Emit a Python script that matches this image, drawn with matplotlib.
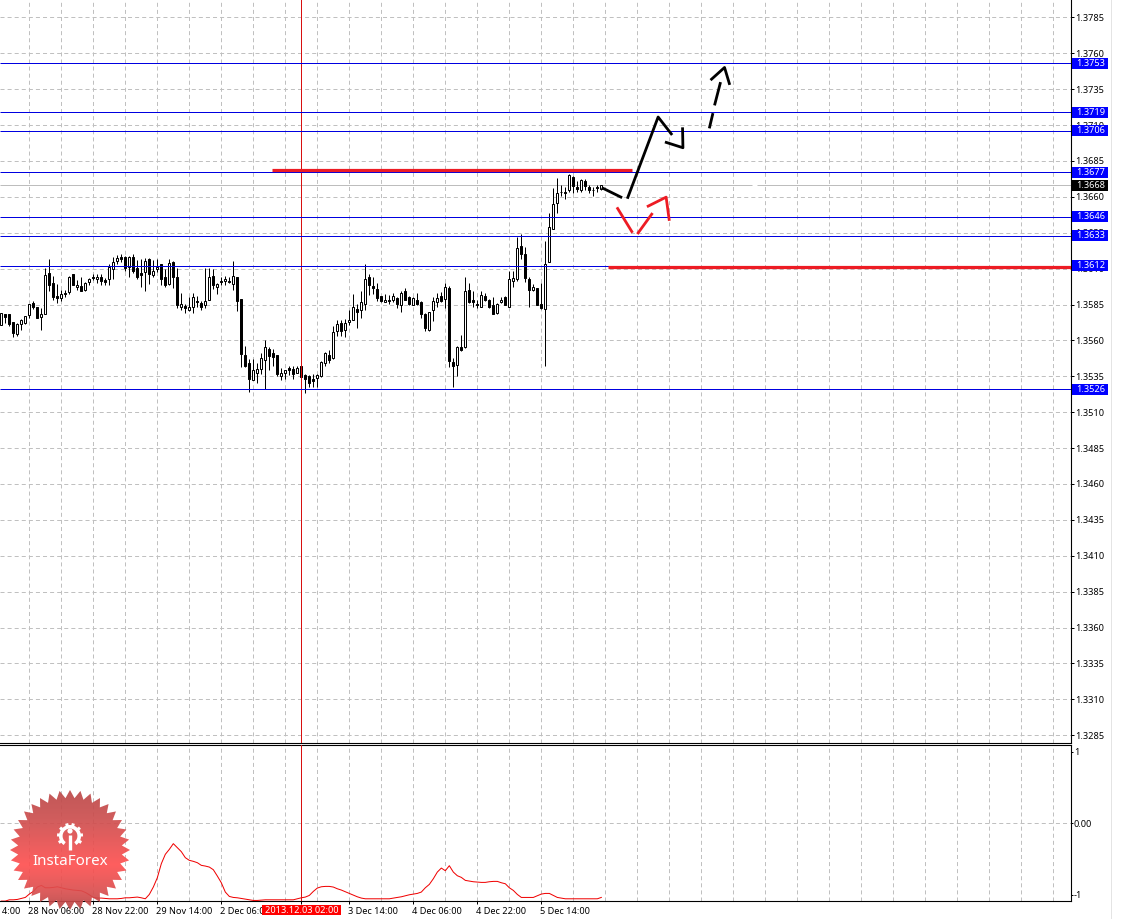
import numpy as np
import matplotlib
matplotlib.use('Agg')
import matplotlib.pyplot as plt
from matplotlib.patches import Rectangle, Polygon, Circle, Wedge
from matplotlib.transforms import blended_transform_factory

plt.rcParams['font.family'] = ['Noto Sans', 'DejaVu Sans']
plt.rcParams['lines.scale_dashes'] = False

# hourly candles
opens = [1.35709, 1.35781, 1.35781, 1.35725, 1.35644, 1.35714, 1.35721, 1.35779, 1.35860, 1.35830,
         1.35765, 1.35785, 1.36068, 1.35999, 1.35908, 1.35897, 1.35929, 1.35934, 1.36061, 1.35973,
         1.35978, 1.35952, 1.36008, 1.36045, 1.36029, 1.36040, 1.36022, 1.36029, 1.36098, 1.36154,
         1.36181, 1.36181, 1.36112, 1.36179, 1.36103, 1.36068, 1.36077, 1.36170, 1.36056, 1.36098,
         1.36130, 1.36040, 1.35994, 1.36149, 1.36040, 1.35832, 1.35839, 1.35813, 1.35834, 1.35874,
         1.35860, 1.35848, 1.35885, 1.36047, 1.35973, 1.36012, 1.36015, 1.36017, 1.35994, 1.36040,
         1.35887, 1.35498, 1.35443, 1.35327, 1.35376, 1.35404, 1.35466, 1.35540, 1.35512, 1.35498,
         1.35355, 1.35376, 1.35410, 1.35401, 1.35376, 1.35422, 1.35360, 1.35355, 1.35332, 1.35336,
         1.35350, 1.35441, 1.35498, 1.35475, 1.35667, 1.35718, 1.35674, 1.35725, 1.35744, 1.35816,
         1.35809, 1.35857, 1.36040, 1.35978, 1.35955, 1.35906, 1.35869, 1.35881, 1.35883, 1.35897,
         1.35850, 1.35941, 1.35899, 1.35850, 1.35885, 1.35871, 1.35783, 1.35672, 1.35809, 1.35871,
         1.35908, 1.35887, 1.35968, 1.35448, 1.35427, 1.35552, 1.35552, 1.35948, 1.35881, 1.35857,
         1.35832, 1.35908, 1.35881, 1.35850, 1.35793, 1.35871, 1.35901, 1.35834, 1.36017, 1.36029,
         1.36260, 1.36200, 1.36031, 1.35948, 1.35968, 1.35857, 1.35816, 1.36147, 1.36379, 1.36559,
         1.36635, 1.36635, 1.36649, 1.36737, 1.36666, 1.36649, 1.36707, 1.36666, 1.36651, 1.36666,
         1.36654]
highs = [1.35788, 1.35783, 1.35783, 1.35725, 1.35718, 1.35751, 1.35769, 1.35853, 1.35876, 1.35830,
         1.35823, 1.36103, 1.36170, 1.36052, 1.35992, 1.35950, 1.35950, 1.36047, 1.36066, 1.36019,
         1.36040, 1.36008, 1.36038, 1.36066, 1.36066, 1.36066, 1.36036, 1.36135, 1.36181, 1.36193,
         1.36205, 1.36186, 1.36186, 1.36205, 1.36158, 1.36170, 1.36177, 1.36177, 1.36158, 1.36170,
         1.36135, 1.36100, 1.36170, 1.36154, 1.36103, 1.35927, 1.35857, 1.35904, 1.35927, 1.35911,
         1.35876, 1.36105, 1.36105, 1.36100, 1.36001, 1.36043, 1.36047, 1.36043, 1.36151, 1.36043,
         1.35887, 1.35561, 1.35471, 1.35468, 1.35441, 1.35510, 1.35603, 1.35556, 1.35538, 1.35498,
         1.35406, 1.35394, 1.35422, 1.35422, 1.35422, 1.35450, 1.35367, 1.35360, 1.35364, 1.35367,
         1.35459, 1.35517, 1.35533, 1.35700, 1.35742, 1.35742, 1.35746, 1.35811, 1.35922, 1.35853,
         1.35943, 1.36130, 1.36066, 1.36043, 1.36001, 1.35908, 1.35920, 1.35915, 1.35931, 1.35904,
         1.35945, 1.35968, 1.35908, 1.35901, 1.35927, 1.35876, 1.35788, 1.35799, 1.35904, 1.35927,
         1.35938, 1.36001, 1.35978, 1.35475, 1.35561, 1.35635, 1.36043, 1.36001, 1.35943, 1.35885,
         1.35943, 1.35927, 1.35887, 1.35904, 1.35862, 1.35904, 1.35908, 1.36082, 1.36082, 1.36320,
         1.36339, 1.36251, 1.36043, 1.35996, 1.35968, 1.36001, 1.36290, 1.36490, 1.36663, 1.36730,
         1.36680, 1.36672, 1.36756, 1.36747, 1.36707, 1.36726, 1.36721, 1.36680, 1.36668, 1.36680,
         1.36680]
lows = [1.35709, 1.35718, 1.35702, 1.35626, 1.35630, 1.35672, 1.35716, 1.35755, 1.35816, 1.35755,
        1.35672, 1.35783, 1.35945, 1.35881, 1.35862, 1.35876, 1.35904, 1.35920, 1.35985, 1.35950,
        1.35943, 1.35945, 1.35985, 1.36019, 1.36001, 1.35985, 1.35989, 1.35985, 1.36026, 1.36135,
        1.36147, 1.36084, 1.36043, 1.36073, 1.36029, 1.35973, 1.35945, 1.35996, 1.36043, 1.36077,
        1.35985, 1.35973, 1.35989, 1.35962, 1.35823, 1.35811, 1.35793, 1.35804, 1.35788, 1.35834,
        1.35811, 1.35827, 1.35881, 1.35955, 1.35922, 1.35985, 1.35989, 1.36003, 1.35950, 1.35804,
        1.35418, 1.35418, 1.35244, 1.35325, 1.35306, 1.35367, 1.35260, 1.35394, 1.35422, 1.35353,
        1.35325, 1.35334, 1.35357, 1.35334, 1.35371, 1.35302, 1.35237, 1.35279, 1.35279, 1.35279,
        1.35348, 1.35424, 1.35445, 1.35473, 1.35633, 1.35630, 1.35626, 1.35707, 1.35742, 1.35688,
        1.35758, 1.35811, 1.35915, 1.35920, 1.35874, 1.35869, 1.35869, 1.35853, 1.35867, 1.35825,
        1.35795, 1.35881, 1.35846, 1.35848, 1.35846, 1.35755, 1.35668, 1.35668, 1.35737, 1.35834,
        1.35869, 1.35827, 1.35418, 1.35279, 1.35355, 1.35528, 1.35549, 1.35864, 1.35830, 1.35823,
        1.35830, 1.35876, 1.35825, 1.35783, 1.35783, 1.35862, 1.35846, 1.35830, 1.35973, 1.36015,
        1.36170, 1.36008, 1.35834, 1.35943, 1.35846, 1.35816, 1.35422, 1.36147, 1.36379, 1.36487,
        1.36603, 1.36587, 1.36635, 1.36626, 1.36631, 1.36635, 1.36649, 1.36626, 1.36608, 1.36633,
        1.36650]
closes = [1.35788, 1.35763, 1.35711, 1.35651, 1.35714, 1.35742, 1.35767, 1.35853, 1.35834, 1.35758,
          1.35783, 1.36059, 1.35987, 1.35904, 1.35894, 1.35920, 1.35924, 1.36045, 1.35987, 1.35989,
          1.35945, 1.35999, 1.36031, 1.36038, 1.36045, 1.36015, 1.36008, 1.36110, 1.36149, 1.36177,
          1.36165, 1.36105, 1.36184, 1.36082, 1.36040, 1.36056, 1.36156, 1.36063, 1.36086, 1.36114,
          1.36026, 1.35987, 1.36137, 1.36040, 1.35848, 1.35853, 1.35827, 1.35830, 1.35901, 1.35869,
          1.35832, 1.35878, 1.36040, 1.35985, 1.35996, 1.36008, 1.36031, 1.36008, 1.36047, 1.35876,
          1.35505, 1.35422, 1.35334, 1.35392, 1.35399, 1.35475, 1.35552, 1.35494, 1.35487, 1.35367,
          1.35371, 1.35392, 1.35394, 1.35367, 1.35406, 1.35348, 1.35334, 1.35306, 1.35320, 1.35357,
          1.35448, 1.35510, 1.35466, 1.35656, 1.35711, 1.35667, 1.35718, 1.35739, 1.35830, 1.35795,
          1.35871, 1.36031, 1.35987, 1.35966, 1.35897, 1.35876, 1.35885, 1.35876, 1.35906, 1.35855,
          1.35927, 1.35883, 1.35855, 1.35897, 1.35853, 1.35785, 1.35686, 1.35795, 1.35878, 1.35897,
          1.35876, 1.35975, 1.35459, 1.35420, 1.35556, 1.35536, 1.35941, 1.35869, 1.35869, 1.35848,
          1.35918, 1.35883, 1.35830, 1.35785, 1.35857, 1.35885, 1.35848, 1.36031, 1.36038, 1.36246,
          1.36205, 1.36036, 1.35952, 1.35975, 1.35848, 1.35827, 1.36135, 1.36388, 1.36547, 1.36628,
          1.36631, 1.36628, 1.36749, 1.36677, 1.36656, 1.36719, 1.36675, 1.36649, 1.36647, 1.36659,
          1.36680]

# oscillator in the lower window
osc = [-1.086, -1.086, -1.068, -1.068, -1.063, -1.049, -1.035, -0.988, -0.951, -0.890,
       -0.867, -0.900, -0.900, -0.895, -0.886, -0.900, -0.914, -0.923, -0.932, -0.937,
       -0.942, -0.965, -0.998, -1.035, -1.044, -1.044, -1.049, -1.054, -1.054, -1.054,
       -1.049, -1.040, -1.040, -1.035, -1.030, -1.040, -1.054, -0.993, -0.890, -0.760,
       -0.564, -0.433, -0.364, -0.284, -0.340, -0.396, -0.480, -0.517, -0.531, -0.550,
       -0.587, -0.597, -0.611, -0.648, -0.736, -0.830, -0.960, -1.021, -1.035, -1.040,
       -1.049, -1.058, -1.068, -1.077, -1.077, -1.072, -1.068, -1.068, -1.068, -1.068,
       -1.068, -1.068, -1.068, -1.068, -1.054, -1.040, -1.030, -1.007, -0.951, -0.904,
       -0.886, -0.881, -0.881, -0.890, -0.914, -0.932, -0.956, -0.979, -1.002, -1.026,
       -1.044, -1.054, -1.054, -1.054, -1.054, -1.054, -1.054, -1.054, -1.044, -1.035,
       -1.026, -1.012, -0.998, -0.988, -0.979, -0.960, -0.900, -0.853, -0.774, -0.681,
       -0.625, -0.662, -0.592, -0.681, -0.732, -0.755, -0.797, -0.806, -0.816, -0.820,
       -0.825, -0.825, -0.816, -0.811, -0.811, -0.830, -0.844, -0.900, -0.937, -0.993,
       -1.035, -1.035, -1.035, -1.035, -1.012, -0.988, -0.979, -0.979, -1.007, -1.035,
       -1.044, -1.054, -1.054, -1.054, -1.054, -1.054, -1.054, -1.054, -1.054, -1.054,
       -1.035]

price_ticks = [1.3785, 1.3760, 1.3735, 1.3710, 1.3685, 1.3660, 1.3635, 1.3610, 1.3585, 1.3560, 1.3535,
               1.3510, 1.3485, 1.3460, 1.3435, 1.3410, 1.3385, 1.3360, 1.3335, 1.3310, 1.3285]
levels = [1.3753, 1.3719, 1.3706, 1.3677, 1.3646, 1.3633, 1.3612, 1.3526]
bid = 1.3668

date_bars = [-9, 7, 23, 39, 55, 87, 103, 119, 135]
date_labels = ['27 Nov 14:00', '28 Nov 06:00', '28 Nov 22:00', '29 Nov 14:00', '2 Dec 06:00',
               '3 Dec 14:00', '4 Dec 06:00', '4 Dec 22:00', '5 Dec 14:00']
cross_bar = 75
cross_label = '2013.12.03 02:00'

# hand drawn forecast lines: (bars, prices)
black_paths = [([150.1, 155.2], [1.36664, 1.36594]),
               ([156.5, 164.2, 167.7], [1.36587, 1.37156, 1.37031]),
               ([165.9, 170.4, 170.3], [1.36982, 1.36942, 1.37084]),
               ([177.0, 177.9], [1.37077, 1.37183]),
               ([178.3, 179.8], [1.37237, 1.37399]),
               ([177.3, 180.8, 182.1], [1.37413, 1.37501, 1.37380])]
red_paths = [([153.9, 157.8], [1.36527, 1.36350]),
             ([159.0, 162.8], [1.36341, 1.36487]),
             ([161.4, 166.2, 167.0], [1.36531, 1.36598, 1.36433])]
red_levels = [(67.7, 157.7, 1.36790), (151.7, 267.4, 1.36108)]

px = 1 / 1.39  # one pixel in points at dpi 100
W, H = 1121, 919
fig = plt.figure(figsize=(W / 100, H / 100), dpi=100, facecolor='white')
ax = fig.add_axes([0, 1 - 743.3 / H, 1070.7 / W, 743.3 / H])
sub = fig.add_axes([0, 1 - 901.3 / H, 1070.7 / W, 156 / H])

xlim = (-0.33, 267.34)
grid_bars = np.arange(7, 268, 8)
dash = (0, (2.9, 2.2))
for a in (ax, sub):
    a.set_xlim(*xlim)
    a.vlines(grid_bars, 0, 1, transform=a.get_xaxis_transform(), color='#c0c0c0', lw=px, linestyle=dash,
             zorder=1, snap=True)
    a.axvline(cross_bar, color='#d81010', lw=px, zorder=4, snap=True)
    a.yaxis.tick_right()
    a.spines['left'].set_visible(False)
    for s in a.spines.values():
        s.set_linewidth(px * 1.1)

# price window
ax.set_ylim(1.32794, 1.37971)
ax.spines['top'].set_visible(False)
ax.set_yticks(price_ticks)
ax.set_yticklabels([f'{p:.4f}' for p in price_ticks])
ax.set_xticks([])
ax.tick_params(axis='y', length=2.2, width=px, pad=1.2, labelsize=6.6)
ax.hlines(price_ticks, xlim[0], xlim[1], color='#c0c0c0', lw=px, linestyle=dash, zorder=1, snap=True)

bars = np.arange(len(opens))
o, h, l, c = map(np.array, (opens, highs, lows, closes))
ax.vlines(bars, l, h, color='black', lw=px, zorder=3, snap=True)
up = c >= o
ax.bar(bars[up], (c - o)[up], bottom=o[up], width=0.5, facecolor='white', edgecolor='black', lw=px, zorder=3.2)
ax.bar(bars[~up], (c - o)[~up], bottom=o[~up], width=0.5, facecolor='black', edgecolor='black', lw=px, zorder=3.2)

ax.hlines(bid, xlim[0], 187.7, color='#bdbdbd', lw=px, zorder=2, snap=True)
ax.hlines(bid, 189.0, xlim[1], color='#bdbdbd', lw=px, zorder=2, snap=True)
ax.hlines(levels, xlim[0], xlim[1], color='#0000e0', lw=px, zorder=4, snap=True)

for x0, x1, y in red_levels:
    ax.plot([x0, x1], [y, y], color='#ed1c24', lw=2.3, solid_capstyle='butt', zorder=5)
for xs, ys in black_paths:
    ax.plot(xs, ys, color='black', lw=2.0, solid_capstyle='butt', zorder=5)
for xs, ys in red_paths:
    ax.plot(xs, ys, color='#ed1c24', lw=2.0, solid_capstyle='butt', zorder=5)

# price boxes on the scale
tr = blended_transform_factory(ax.transAxes, ax.transData)
box_h = 0.00076
for p, col in [(v, '#0000ff') for v in levels] + [(bid, 'black')]:
    ax.add_patch(Rectangle((1.001, p - box_h / 2), 0.0342, box_h, transform=tr, facecolor=col,
                           edgecolor='none', clip_on=False, zorder=6))
    ax.text(1.0055, p, f'{p:.4f}', transform=tr, color='white', fontsize=6.6, va='center', ha='left',
            clip_on=False, zorder=7)

# lower window
sub.set_ylim(-1.089, 1.089)
sub.set_yticks([1, 0, -1])
sub.set_yticklabels(['1', '0.00', '-1'])
sub.set_xticks([b for b in date_bars if b > 0] + [cross_bar])
sub.set_xticklabels([])
sub.tick_params(axis='x', length=2.2, width=px)
sub.tick_params(axis='y', length=1.5, width=px, pad=0.8, labelsize=6.6)
sub.axhline(0, color='#c0c0c0', lw=px, linestyle=dash, zorder=1, snap=True)
sub.plot(bars, osc, color='#f00000', lw=px, zorder=3)

for b, t in zip(date_bars, date_labels):
    sub.annotate(t, (b, 0), xycoords=('data', 'axes fraction'), xytext=(-1, -4.2), textcoords='offset points',
                 ha='left', va='top', fontsize=6.6, annotation_clip=False)
tr2 = blended_transform_factory(sub.transData, sub.transAxes)
sub.add_patch(Rectangle((65.09, -0.0897), 19.8, 0.0641, transform=tr2, facecolor='#ff0000', edgecolor='none',
                        clip_on=False, zorder=6))
sub.annotate(cross_label, (cross_bar, -0.0577), xycoords=('data', 'axes fraction'), color='white', ha='center',
             va='center', fontsize=6.6, annotation_clip=False, zorder=7)

# logo, drawn in picture pixels on top of everything
logo = fig.add_axes([0, 0, 1, 1], facecolor='none', zorder=10)
logo.set_xlim(0, W)
logo.set_ylim(H, 0)
logo.axis('off')
logo.axvline(1110.5, color='#e4e4e4', lw=px, snap=True)  # window edge on the right
teeth = 36
ang = np.linspace(0, 2 * np.pi, 2 * teeth, endpoint=False) + np.pi / 2
rad = np.where(np.arange(2 * teeth) % 2 == 0, 60, 52)
star = Polygon(np.c_[70 + rad * np.cos(ang), 850 + rad * np.sin(ang)], closed=True, facecolor='none', edgecolor='none')
logo.add_patch(star)
grad_pos = np.array([0.0, 0.25, 0.62, 0.85, 1.0])
grad_r = np.array([186, 205, 255, 215, 178])
grad_g = np.array([72, 78, 80, 78, 68])
grad_b = np.array([72, 78, 80, 78, 68])
t = np.linspace(0, 1, 128)
rgba = np.ones((128, 1, 4))
rgba[:, 0, 0] = np.interp(t, grad_pos, grad_r) / 255
rgba[:, 0, 1] = np.interp(t, grad_pos, grad_g) / 255
rgba[:, 0, 2] = np.interp(t, grad_pos, grad_b) / 255
rgba[:, 0, 3] = 0.92
im = logo.imshow(rgba, extent=(5, 135, 912, 788), aspect='auto', zorder=1)
im.set_clip_path(star)
logo.set_xlim(0, W)
logo.set_ylim(H, 0)

# gear with the little figure inside
logo.add_patch(Wedge((70, 836), 11, 125, 55, width=3.6, facecolor='white', edgecolor='none', zorder=2))
for a in np.deg2rad([150, 185, 220, 255, 285, 320, 355, 30]):
    logo.plot([70 + 10 * np.cos(a), 70 + 13 * np.cos(a)], [836 + 10 * np.sin(a), 836 + 13 * np.sin(a)],
              color='white', lw=2.2, solid_capstyle='butt', zorder=2)
logo.add_patch(Circle((70, 831), 2.6, facecolor='white', edgecolor='none', zorder=3))
logo.plot([70, 70], [835, 850], color='white', lw=2.4, solid_capstyle='butt', zorder=3)
logo.text(70, 861.5, 'InstaForex', color='white', fontsize=10.9, ha='center', va='center', zorder=3)

fig.savefig('out.png', dpi=100, facecolor='white')
